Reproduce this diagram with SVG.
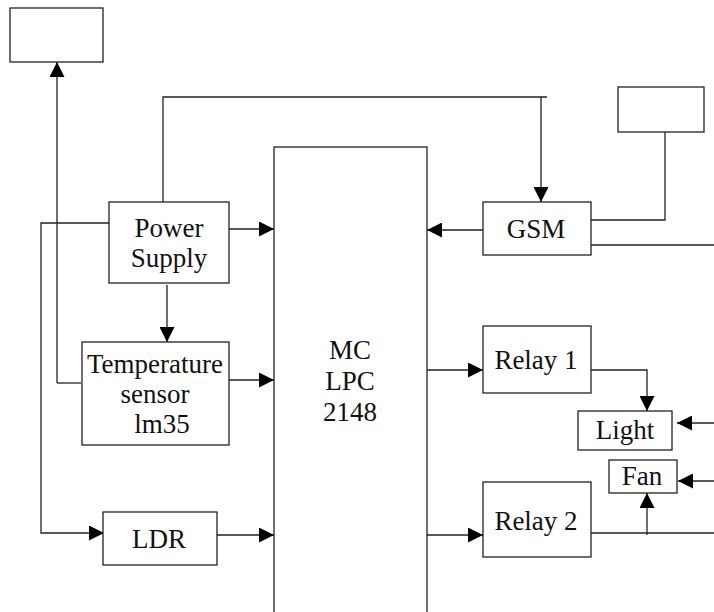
<svg xmlns="http://www.w3.org/2000/svg" width="714" height="612" viewBox="0 0 714 612">
<style>
.box{fill:#fff;stroke:#222;stroke-width:1.3}
.ln{fill:none;stroke:#222;stroke-width:1.3}
text{font-family:"Liberation Serif","Times New Roman",serif;font-size:27px;fill:#111;text-anchor:middle}
</style>
<defs>
<marker id="ah" viewBox="0 0 10 10" refX="10" refY="5" markerWidth="15" markerHeight="15" markerUnits="userSpaceOnUse" orient="auto">
<path d="M0,0 L10,5 L0,10 Z" fill="#000"/>
</marker>
</defs>
<g id="connectors">
<path class="ln" d="M57,383 L57,62" marker-end="url(#ah)"/>
<path class="ln" d="M57,383 L81,383"/>
<path class="ln" d="M163,202 L163,97 L547,97"/>
<path class="ln" d="M541,97 L541,202" marker-end="url(#ah)"/>
<path class="ln" d="M109,223 L41,223 L41,533 L104,533" marker-end="url(#ah)"/>
<path class="ln" d="M229,229 L274,229" marker-end="url(#ah)"/>
<path class="ln" d="M167,285 L167,342" marker-end="url(#ah)"/>
<path class="ln" d="M229,380 L274,380" marker-end="url(#ah)"/>
<path class="ln" d="M217,535 L274,535" marker-end="url(#ah)"/>
<path class="ln" d="M483,230 L427,230" marker-end="url(#ah)"/>
<path class="ln" d="M591,220 L665,220 L665,132"/>
<path class="ln" d="M591,245 L714,245"/>
<path class="ln" d="M427,370 L483,370" marker-end="url(#ah)"/>
<path class="ln" d="M591,370 L647,370 L647,411" marker-end="url(#ah)"/>
<path class="ln" d="M714,423 L677,423" marker-end="url(#ah)"/>
<path class="ln" d="M714,481 L678,481" marker-end="url(#ah)"/>
<path class="ln" d="M427,535 L483,535" marker-end="url(#ah)"/>
<path class="ln" d="M591,533 L714,533"/>
<path class="ln" d="M647,535 L647,493" marker-end="url(#ah)"/>
</g>
<g id="topbox"><rect class="box" x="10" y="8" width="93" height="54"/></g>
<g id="topright"><rect class="box" x="618" y="87" width="86" height="45"/></g>
<g id="mc"><rect class="box" x="274" y="147" width="153" height="480"/>
<text x="350" y="359">MC</text><text x="350" y="390">LPC</text><text x="350" y="421">2148</text></g>
<g id="power"><rect class="box" x="109" y="202" width="120" height="81"/>
<text x="169" y="237">Power</text><text x="169" y="267">Supply</text></g>
<g id="temp"><rect class="box" x="82" y="342" width="147" height="103"/>
<text x="155" y="373">Temperature</text><text x="155" y="403">sensor</text><text x="162" y="433">lm35</text></g>
<g id="ldr"><rect class="box" x="103" y="512" width="114" height="53"/>
<text x="159" y="548">LDR</text></g>
<g id="gsm"><rect class="box" x="483" y="202" width="108" height="53"/>
<text x="536" y="238">GSM</text></g>
<g id="relay1"><rect class="box" x="483" y="326" width="108" height="67"/>
<text x="536" y="369">Relay 1</text></g>
<g id="light"><rect class="box" x="578" y="411" width="94" height="39"/>
<text x="625" y="439">Light</text></g>
<g id="fan"><rect class="box" x="609" y="460" width="68" height="33"/>
<text x="642" y="485">Fan</text></g>
<g id="relay2"><rect class="box" x="483" y="482" width="108" height="75"/>
<text x="536" y="530">Relay 2</text></g>
</svg>
